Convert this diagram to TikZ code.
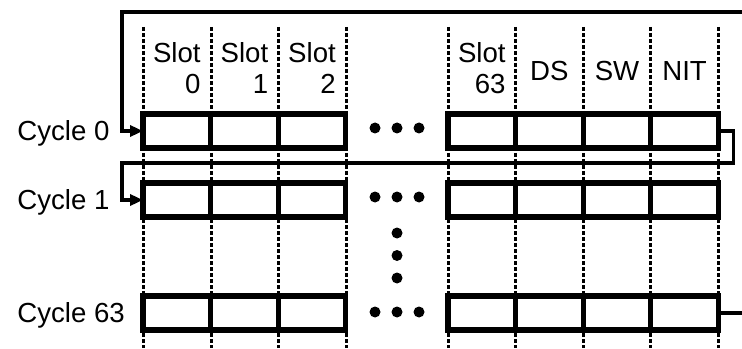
\documentclass[tikz,border=0pt]{standalone}
\usepackage{fontspec}
\setmainfont{Liberation Sans}
\usetikzlibrary{arrows.meta,positioning}

\begin{document}
\begin{tikzpicture}[
    x=0.5pt, y=0.5pt,
    font=\fontsize{13.8pt}{15.5pt}\selectfont,
    cell/.style={draw, line width=2.6pt, minimum width=33.8pt, minimum height=17pt, inner sep=0pt, outer sep=0pt},
    guide/.style={line width=1.5pt, dash pattern=on 2pt off 1pt},
    loopline/.style={line width=1.7pt},
    feed/.style={loopline, -{Triangle[length=6.5pt, width=5.5pt]}},
    lbl/.style={align=right, inner sep=0pt},
    cyc/.style={anchor=base west, inner sep=0pt}
]
\useasboundingbox (0,0) rectangle (742,348);

% dashed guides between the slots
\foreach \x in {143,211,278,346,448,515,583,650,718}
  \draw[guide] (\x,321) -- (\x,0);

% one row of cells per cycle
\foreach \r/\y in {0/217,1/148,63/35} {
  \node[cell] (c\r-0) at (176.8,\y) {};
  \node[cell, right=0pt of c\r-0] (c\r-1) {};
  \node[cell, right=0pt of c\r-1] (c\r-2) {};
  \node[cell] (c\r-3) at (481.8,\y) {};
  \node[cell, right=0pt of c\r-3] (c\r-4) {};
  \node[cell, right=0pt of c\r-4] (c\r-5) {};
  \node[cell, right=0pt of c\r-5] (c\r-6) {};
  \node[cyc] (cyc\r) at (17,\y-9.5) {Cycle \r};
}

% column headings
\node[lbl] (s0) at ([yshift=31.5pt]c0-0) {Slot\\0};
\node[lbl] (s1) at ([yshift=31.5pt]c0-1) {Slot\\1};
\node[lbl] (s2) at ([yshift=31.5pt]c0-2) {Slot\\2};
\node[lbl] (s63) at ([yshift=31.5pt]c0-3) {Slot\\63};
\node[inner sep=0pt] (ds) at ([yshift=30pt]c0-4) {DS};
\node[inner sep=0pt] (sw) at ([yshift=30pt]c0-5) {SW};
\node[inner sep=0pt] (nit) at ([yshift=30pt]c0-6) {NIT};

% ellipsis dots
\foreach \y in {220,151,36}
  \foreach \x in {375,397,419}
    \fill (\x,\y) circle (2.75pt);
\foreach \y in {115,92.5,70}
  \fill (397,\y) circle (2.75pt);

% wrap-around connectors
\coordinate (fbin) at (742,336);
\coordinate (fbout) at (742,35);
\draw[feed] (fbin) -| ([xshift=-10.5pt]c0-0.west) -- (c0-0.west);
\draw[feed] (c0-6.east) -| ([xshift=7.5pt,yshift=-7.5pt]c0-6.south east) -| ([xshift=-10.5pt]c1-0.west) -- (c1-0.west);
\draw[loopline] (c63-6.east) -- (fbout);
\end{tikzpicture}
\end{document}
